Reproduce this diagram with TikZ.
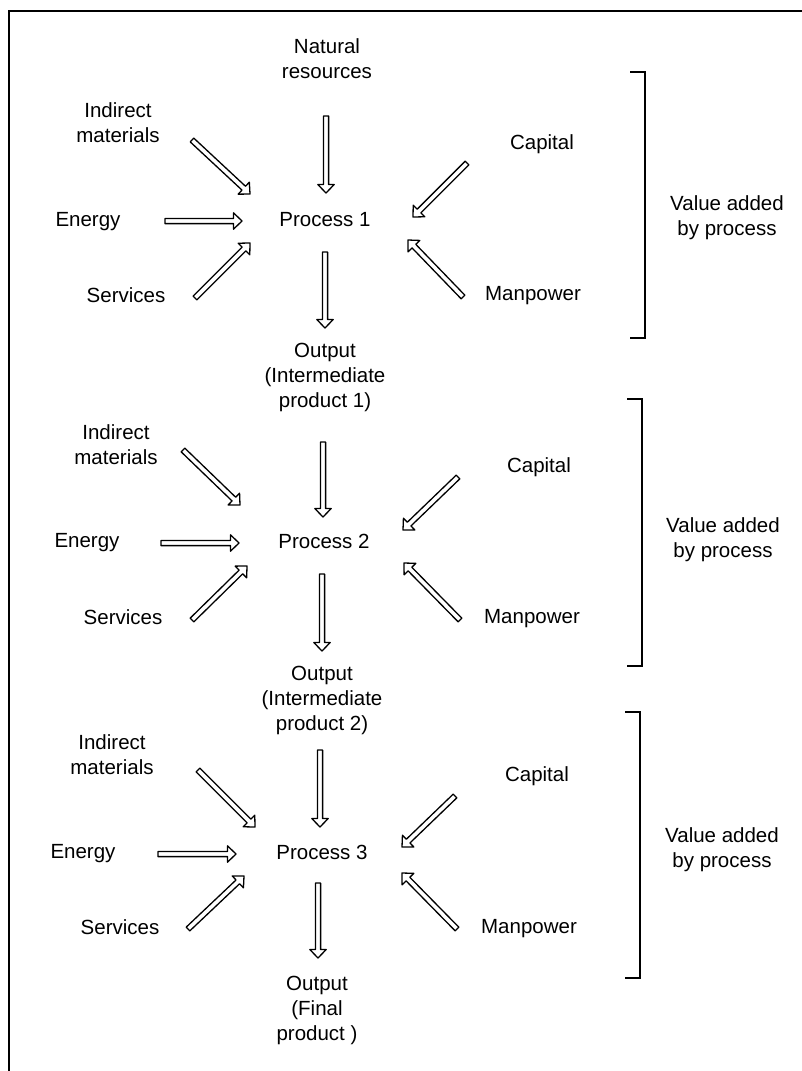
\documentclass[tikz,border=0pt]{standalone}
\usepackage{fontspec}
\setmainfont{Liberation Sans}
\usetikzlibrary{calc}
\begin{document}
\begin{tikzpicture}[x=1pt,y=-1pt,
  lbl/.style={inner sep=0pt, align=center, font=\fontsize{20.5}{25}\selectfont},
  rule/.style={line width=1.5pt},
  % open block arrow: narrow shaft, triangular head, drawn as one outline
  hollow/.style={draw, line width=1.3pt, line join=round, to path={
    let \p1=($(\tikztotarget)-(\tikztostart)$),
        \n1={atan2(\y1,\x1)},
        \n2={veclen(\x1,\y1)-8.5} in
    ($(\tikztostart)+(\n1+90:2.6pt)$)
    -- ($(\tikztostart)+(\n1:\n2)+(\n1+90:2.6pt)$)
    -- ($(\tikztostart)+(\n1:\n2)+(\n1+90:8.2pt)$)
    -- (\tikztotarget)
    -- ($(\tikztostart)+(\n1:\n2)+(\n1-90:8.2pt)$)
    -- ($(\tikztostart)+(\n1:\n2)+(\n1-90:2.6pt)$)
    -- ($(\tikztostart)+(\n1-90:2.6pt)$) -- cycle}},
]
\useasboundingbox (0,0) rectangle (802,1071);

% outer frame (top and left edges)
\draw[rule] (9,1071) -- (9,11) -- (802,11);

% ---------- stage 1 ----------
\node[lbl] (nat)  at (327,59)  {Natural\\resources};
\node[lbl] (ind1) at (118,123) {Indirect\\materials};
\node[lbl] (en1)  at (88,222)  {Energy};
\node[lbl] (pr1)  at (325,220) {Process 1};
\node[lbl] (sv1)  at (126,295) {Services};
\node[lbl] (cap1) at (542,144) {Capital};
\node[lbl] (mp1)  at (533,296) {Manpower};
\node[lbl] (va1)  at (727,218) {Value added\\by process};
\node[lbl] (out1) at (325,377) {Output\\(Intermediate\\product 1)};

\coordinate (a1s) at (326,116); \coordinate (a1e) at (326,193);
\coordinate (b1s) at (192,140); \coordinate (b1e) at (250,194);
\coordinate (c1s) at (165,221); \coordinate (c1e) at (242,221);
\coordinate (d1s) at (195,298); \coordinate (d1e) at (250,243);
\coordinate (e1s) at (325,252); \coordinate (e1e) at (325,328);
\coordinate (f1s) at (467,163); \coordinate (f1e) at (413,217);
\coordinate (g1s) at (463,297); \coordinate (g1e) at (408,240);
\path[hollow] (a1s) to (a1e);
\path[hollow] (b1s) to (b1e);
\path[hollow] (c1s) to (c1e);
\path[hollow] (d1s) to (d1e);
\path[hollow] (e1s) to (e1e);
\path[hollow] (f1s) to (f1e);
\path[hollow] (g1s) to (g1e);
\draw[rule] (630,72) -- (645,72) -- (645,338) -- (630,338);

% ---------- stage 2 ----------
\node[lbl] (ind2) at (116,445) {Indirect\\materials};
\node[lbl] (en2)  at (87,543)  {Energy};
\node[lbl] (pr2)  at (324,541) {Process 2};
\node[lbl] (sv2)  at (123,617) {Services};
\node[lbl] (cap2) at (539,467) {Capital};
\node[lbl] (mp2)  at (532,619) {Manpower};
\node[lbl] (va2)  at (723,540) {Value added\\by process};
\node[lbl] (out2) at (322,700) {Output\\(Intermediate\\product 2)};

\coordinate (a2s) at (323,442); \coordinate (a2e) at (323,517);
\coordinate (b2s) at (183,450); \coordinate (b2e) at (240,505);
\coordinate (c2s) at (161,543); \coordinate (c2e) at (239,543);
\coordinate (d2s) at (192,620); \coordinate (d2e) at (247,566);
\coordinate (e2s) at (322,574); \coordinate (e2e) at (322,651);
\coordinate (f2s) at (458,477); \coordinate (f2e) at (403,530);
\coordinate (g2s) at (460,620); \coordinate (g2e) at (404,563);
\path[hollow] (a2s) to (a2e);
\path[hollow] (b2s) to (b2e);
\path[hollow] (c2s) to (c2e);
\path[hollow] (d2s) to (d2e);
\path[hollow] (e2s) to (e2e);
\path[hollow] (f2s) to (f2e);
\path[hollow] (g2s) to (g2e);
\draw[rule] (627,399) -- (642,399) -- (642,666) -- (627,666);

% ---------- stage 3 ----------
\node[lbl] (ind3) at (112,755) {Indirect\\materials};
\node[lbl] (en3)  at (83,854)  {Energy};
\node[lbl] (pr3)  at (322,852) {Process 3};
\node[lbl] (sv3)  at (120,927) {Services};
\node[lbl] (cap3) at (537,776) {Capital};
\node[lbl] (mp3)  at (529,929) {Manpower};
\node[lbl] (va3)  at (722,850) {Value added\\by process};
\node[lbl] (out3) at (317,1010) {Output\\(Final\\product )};

\coordinate (a3s) at (320,750); \coordinate (a3e) at (320,827);
\coordinate (b3s) at (198,770); \coordinate (b3e) at (255,827);
\coordinate (c3s) at (158,854); \coordinate (c3e) at (236,854);
\coordinate (d3s) at (188,929); \coordinate (d3e) at (244,876);
\coordinate (e3s) at (318,883); \coordinate (e3e) at (318,958);
\coordinate (f3s) at (455,796); \coordinate (f3e) at (402,847);
\coordinate (g3s) at (457,929); \coordinate (g3e) at (402,873);
\path[hollow] (a3s) to (a3e);
\path[hollow] (b3s) to (b3e);
\path[hollow] (c3s) to (c3e);
\path[hollow] (d3s) to (d3e);
\path[hollow] (e3s) to (e3e);
\path[hollow] (f3s) to (f3e);
\path[hollow] (g3s) to (g3e);
\draw[rule] (625,712) -- (640,712) -- (640,978) -- (625,978);
\end{tikzpicture}
\end{document}
